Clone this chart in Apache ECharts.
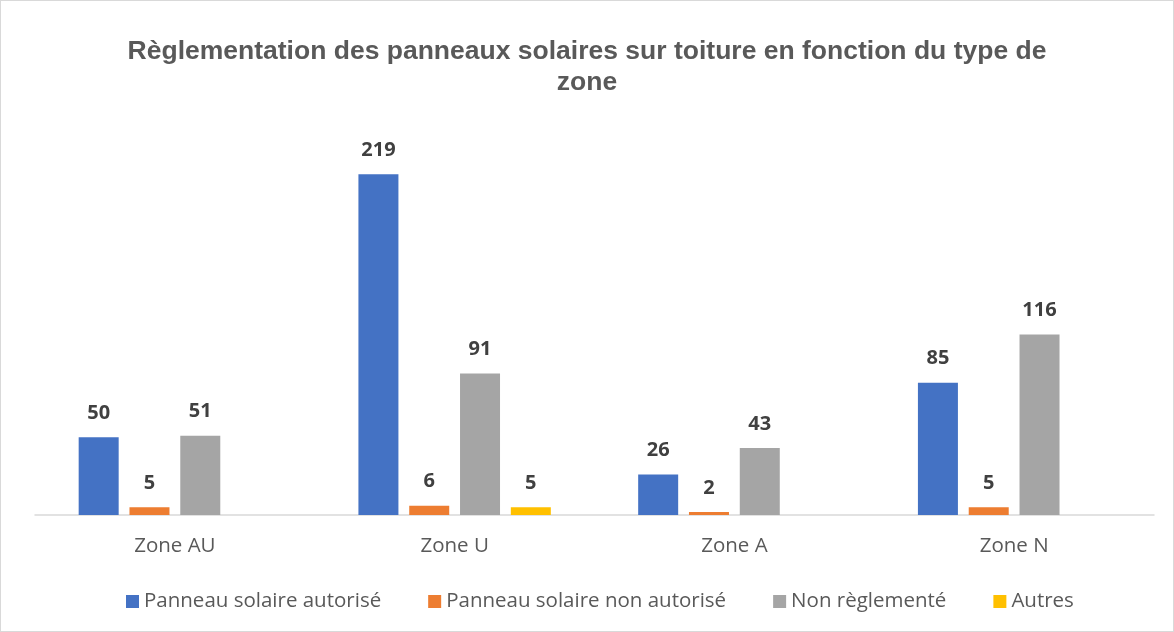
<!DOCTYPE html>
<html>
<head>
<meta charset="utf-8">
<script src="https://cdn.jsdelivr.net/npm/echarts@6/dist/echarts.min.js"></script>
<style>
  html, body { margin: 0; padding: 0; background: #fff; }
  #chart { width: 1174px; height: 632px; box-sizing: border-box; border: 1px solid #d9d9d9; }
</style>
</head>
<body>
<div id="chart"></div>
<script>
// données du graphique
var zones = ['Zone AU', 'Zone U', 'Zone A', 'Zone N'];
var autorise = [50, 219, 26, 85];
var nonAutorise = [5, 6, 2, 5];
var nonReglemente = [51, 91, 43, 116];
var autres = [null, 5, null, null];

var chart = echarts.init(document.getElementById('chart'));

function barSerie(name, data, color) {
  return {
    name: name,
    type: 'bar',
    data: data,
    barWidth: 40,
    barGap: '27%',
    itemStyle: { color: color },
    label: {
      show: true,
      position: 'top',
      distance: 14,
      color: '#404040',
      fontSize: 20,
      fontWeight: 'bold',
      fontFamily: 'Open Sans'
    }
  };
}

var option = {
  animation: false,
  title: {
    text: 'Règlementation des panneaux solaires sur toiture en fonction du type de\nzone',
    left: 'center',
    top: 30,
    textStyle: {
      color: '#595959',
      fontSize: 26.5,
      fontWeight: 'bold',
      fontFamily: 'Liberation Sans',
      lineHeight: 31
    }
  },
  legend: {
    bottom: 14,
    left: 120,
    itemWidth: 13,
    itemHeight: 13,
    itemGap: 47,
    icon: 'rect',
    textStyle: { color: '#595959', fontSize: 20.5, fontFamily: 'Open Sans' }
  },
  grid: { left: 34, right: 19, top: 125, bottom: 116 },
  xAxis: {
    type: 'category',
    data: zones,
    axisTick: { show: false },
    axisLine: { lineStyle: { color: '#d9d9d9', width: 1.5 } },
    axisLabel: { color: '#595959', fontSize: 20.5, fontFamily: 'Open Sans', margin: 21 }
  },
  yAxis: {
    type: 'value',
    min: 0,
    max: 250,
    show: false,
    splitLine: { show: false }
  },
  series: [
    barSerie('Panneau solaire autorisé', autorise, '#4472C4'),
    barSerie('Panneau solaire non autorisé', nonAutorise, '#ED7D31'),
    barSerie('Non règlementé', nonReglemente, '#A5A5A5'),
    barSerie('Autres', autres, '#FFC000')
  ]
};
chart.setOption(option);
</script>
</body>
</html>
